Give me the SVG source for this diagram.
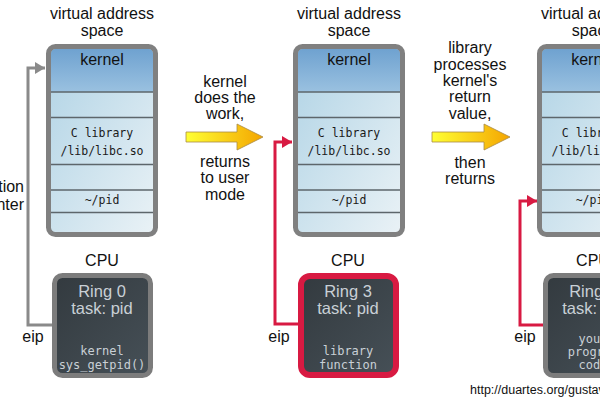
<svg xmlns="http://www.w3.org/2000/svg" width="600" height="400" viewBox="0 0 600 400">
<defs>
<style>
.lbl{font-family:"Liberation Sans",Arial,sans-serif;font-size:16px;fill:#111;text-anchor:middle}
.mono{font-family:"DejaVu Sans Mono","Liberation Mono",monospace;font-size:11.5px;fill:#1a1a1a;text-anchor:middle}
.cpu{font-family:"Liberation Sans",Arial,sans-serif;font-size:16.5px;fill:#c9d0d6;text-anchor:middle}
.cpum{font-family:"DejaVu Sans Mono","Liberation Mono",monospace;font-size:12px;fill:#c9d0d6;text-anchor:middle}
.cell{fill:url(#cellG)}
.kern{fill:url(#kernG)}
.sep{stroke:#5d666b;stroke-width:1.5}
.frame{fill:none;stroke:#808080;stroke-width:5}
.cpubox{fill:url(#cpuG);stroke:#7c7c7c;stroke-width:5}
.cpured{fill:url(#cpuG);stroke:#d81a42;stroke-width:6}
.gray{fill:none;stroke:#8a8a8a;stroke-width:3}
.red{fill:none;stroke:#d81a42;stroke-width:3}
.yarrow{fill:url(#yG);stroke:#a88a48;stroke-width:0.8}
</style>
<linearGradient id="cellG" x1="0" y1="0" x2="1" y2="1">
<stop offset="0" stop-color="#b0d3e5"/>
<stop offset="1" stop-color="#eaf2f6"/>
</linearGradient>
<linearGradient id="kernG" x1="0" y1="0" x2="0" y2="1">
<stop offset="0" stop-color="#6fa2d0"/>
<stop offset="1" stop-color="#9ac1e0"/>
</linearGradient>
<linearGradient id="cpuG" x1="0" y1="0" x2="1" y2="1">
<stop offset="0" stop-color="#333a3f"/>
<stop offset="1" stop-color="#465057"/>
</linearGradient>
<linearGradient id="yG" x1="0" y1="0" x2="1" y2="0">
<stop offset="0" stop-color="#ffff33"/>
<stop offset="1" stop-color="#f4a500"/>
</linearGradient>
<marker id="ahGray" markerUnits="userSpaceOnUse" viewBox="0 0 10 12" refX="10" refY="6" markerWidth="10" markerHeight="12" orient="auto">
<path d="M0,0 L10,6 L0,12 Z" fill="#8a8a8a"/>
</marker>
<marker id="ahRed" markerUnits="userSpaceOnUse" viewBox="0 0 10 12" refX="10" refY="6" markerWidth="10" markerHeight="12" orient="auto">
<path d="M0,0 L10,6 L0,12 Z" fill="#d81a42"/>
</marker>
</defs>
<rect width="600" height="400" fill="#ffffff"/>

<g id="connectors">
<path class="gray" d="M52,325 H28 V68 H45" marker-end="url(#ahGray)"/>
<path class="red" d="M298,324 H275 V142 H292" marker-end="url(#ahRed)"/>
<path class="red" d="M543,325 H520 V201 H537" marker-end="url(#ahRed)"/>
<polygon class="yarrow" points="186,132 237,132 237,124 263,137 237,150 237,142 186,142"/>
<polygon class="yarrow" points="432,132 484,132 484,124 510,137 484,150 484,142 432,142"/>
</g>

<g id="vas1">
<text class="lbl" x="102" y="19">virtual address</text>
<text class="lbl" x="102" y="36">space</text>
<rect class="cell" x="48.5" y="46.5" width="107" height="188" rx="7"/>
<path class="kern" d="M51,92 V53.5 Q51,49 55.5,49 H148.5 Q153,49 153,53.5 V92 Z"/>
<line class="sep" x1="51" y1="92" x2="153" y2="92"/>
<line class="sep" x1="51" y1="117.5" x2="153" y2="117.5"/>
<line class="sep" x1="51" y1="164.5" x2="153" y2="164.5"/>
<line class="sep" x1="51" y1="190" x2="153" y2="190"/>
<line class="sep" x1="51" y1="212.5" x2="153" y2="212.5"/>
<rect class="frame" x="48.5" y="46.5" width="107" height="188" rx="7"/>
<text class="lbl" x="102" y="65">kernel</text>
<text class="mono" x="102" y="137">C library</text>
<text class="mono" x="102" y="155">/lib/libc.so</text>
<text class="mono" x="102" y="204">~/pid</text>
</g>

<g id="cpu1">
<text class="lbl" x="102" y="266">CPU</text>
<rect class="cpubox" x="54.5" y="275.5" width="96" height="100" rx="8"/>
<text class="cpu" x="102" y="297">Ring 0</text>
<text class="cpu" x="102" y="314">task: pid</text>
<text class="cpum" x="102" y="355">kernel</text>
<text class="cpum" x="102" y="369">sys_getpid()</text>
</g>

<g id="ip-label">
<text class="lbl" x="24" y="192" style="text-anchor:end">instruction</text>
<text class="lbl" x="24" y="210" style="text-anchor:end">pointer</text>
</g>
<text class="lbl" x="33" y="342">eip</text>

<g id="step1">
<text class="lbl" x="225" y="87">kernel</text>
<text class="lbl" x="225" y="103">does the</text>
<text class="lbl" x="225" y="119">work,</text>
<text class="lbl" x="225" y="167">returns</text>
<text class="lbl" x="225" y="183">to user</text>
<text class="lbl" x="225" y="200">mode</text>
</g>

<g id="vas2" transform="translate(247,0)">
<text class="lbl" x="102" y="19">virtual address</text>
<text class="lbl" x="102" y="36">space</text>
<rect class="cell" x="48.5" y="46.5" width="107" height="188" rx="7"/>
<path class="kern" d="M51,92 V53.5 Q51,49 55.5,49 H148.5 Q153,49 153,53.5 V92 Z"/>
<line class="sep" x1="51" y1="92" x2="153" y2="92"/>
<line class="sep" x1="51" y1="117.5" x2="153" y2="117.5"/>
<line class="sep" x1="51" y1="164.5" x2="153" y2="164.5"/>
<line class="sep" x1="51" y1="190" x2="153" y2="190"/>
<line class="sep" x1="51" y1="212.5" x2="153" y2="212.5"/>
<rect class="frame" x="48.5" y="46.5" width="107" height="188" rx="7"/>
<text class="lbl" x="102" y="65">kernel</text>
<text class="mono" x="102" y="137">C library</text>
<text class="mono" x="102" y="155">/lib/libc.so</text>
<text class="mono" x="102" y="204">~/pid</text>
</g>

<g id="cpu2">
<text class="lbl" x="348" y="266">CPU</text>
<rect class="cpured" x="301" y="276" width="95" height="99" rx="9"/>
<text class="cpu" x="348" y="297">Ring 3</text>
<text class="cpu" x="348" y="314">task: pid</text>
<text class="cpum" x="348" y="355">library</text>
<text class="cpum" x="348" y="369">function</text>
</g>
<text class="lbl" x="279" y="342">eip</text>

<g id="step2">
<text class="lbl" x="470" y="53">library</text>
<text class="lbl" x="470" y="70">processes</text>
<text class="lbl" x="470" y="86">kernel's</text>
<text class="lbl" x="470" y="102">return</text>
<text class="lbl" x="470" y="119">value,</text>
<text class="lbl" x="470" y="168">then</text>
<text class="lbl" x="470" y="184">returns</text>
</g>

<g id="vas3" transform="translate(491,0)">
<text class="lbl" x="102" y="19">virtual address</text>
<text class="lbl" x="102" y="36">space</text>
<rect class="cell" x="48.5" y="46.5" width="107" height="188" rx="7"/>
<path class="kern" d="M51,92 V53.5 Q51,49 55.5,49 H148.5 Q153,49 153,53.5 V92 Z"/>
<line class="sep" x1="51" y1="92" x2="153" y2="92"/>
<line class="sep" x1="51" y1="117.5" x2="153" y2="117.5"/>
<line class="sep" x1="51" y1="164.5" x2="153" y2="164.5"/>
<line class="sep" x1="51" y1="190" x2="153" y2="190"/>
<line class="sep" x1="51" y1="212.5" x2="153" y2="212.5"/>
<rect class="frame" x="48.5" y="46.5" width="107" height="188" rx="7"/>
<text class="lbl" x="102" y="65">kernel</text>
<text class="mono" x="102" y="137">C library</text>
<text class="mono" x="102" y="155">/lib/libc.so</text>
<text class="mono" x="102" y="204">~/pid</text>
</g>

<g id="cpu3">
<text class="lbl" x="593" y="266">CPU</text>
<rect class="cpubox" x="545.5" y="275.5" width="96" height="100" rx="8"/>
<text class="cpu" x="593" y="297">Ring 3</text>
<text class="cpu" x="593" y="314">task: pid</text>
<text class="cpum" x="593" y="343">your</text>
<text class="cpum" x="593" y="356">program</text>
<text class="cpum" x="593" y="369">code</text>
</g>
<text class="lbl" x="525" y="342">eip</text>

<text x="470" y="394" style="font-family:'Liberation Sans',Arial,sans-serif;font-size:12.5px;fill:#111">http://duartes.org/gustavo/blog/</text>
</svg>
